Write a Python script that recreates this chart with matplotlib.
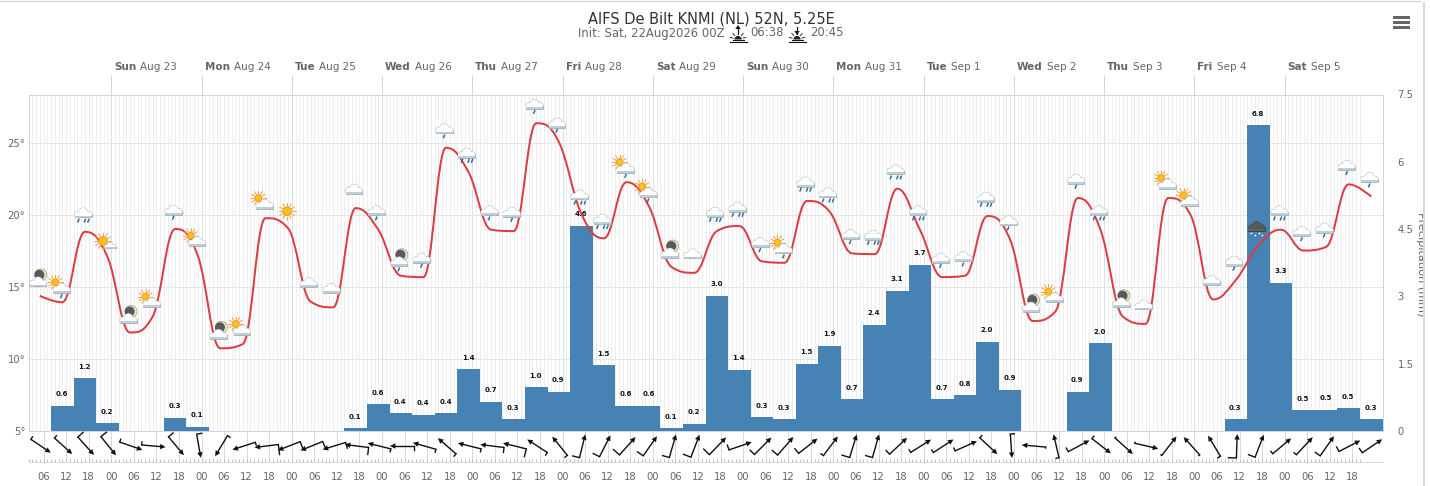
import numpy as np
import matplotlib
matplotlib.use("Agg")
import matplotlib.pyplot as plt
from matplotlib.patches import Circle, Rectangle, PathPatch, Polygon
from matplotlib.path import Path

W, H = 1430, 486
plt.rcParams['font.family'] = ['DejaVu Sans']

# ---------- data ----------
day_labels = [("Sun", "Aug 23"), ("Mon", "Aug 24"), ("Tue", "Aug 25"), ("Wed", "Aug 26"),
              ("Thu", "Aug 27"), ("Fri", "Aug 28"), ("Sat", "Aug 29"), ("Sun", "Aug 30"),
              ("Mon", "Aug 31"), ("Tue", "Sep 1"), ("Wed", "Sep 2"), ("Thu", "Sep 3"),
              ("Fri", "Sep 4"), ("Sat", "Sep 5")]

temps = [14.4, 13.95, 18.85, 17.1, 11.85, 12.95, 19.05, 17.2, 10.75, 11.05,
         19.8, 19.1, 14.0, 13.6, 20.5, 19.0, 15.8, 15.7, 24.7, 23.0,
         19.0, 18.9, 26.4, 25.1, 20.1, 18.4, 22.3, 20.6, 16.4, 16.0,
         18.9, 19.25, 16.8, 16.7, 21.0, 20.25, 17.35, 17.3, 21.85, 19.0,
         15.7, 15.8, 19.95, 18.3, 12.65, 13.3, 21.2, 19.0, 12.95, 12.45,
         21.2, 20.0, 14.15, 15.5, 17.9, 19.0, 17.55, 17.8, 22.15, 21.3]

precip = [0.56, 1.18, 0.17, 0, 0, 0.29, 0.09, 0, 0, 0, 0, 0, 0, 0.06, 0.6, 0.4, 0.36, 0.4,
          1.38, 0.65, 0.26, 0.98, 0.87, 4.57, 1.47, 0.56, 0.56, 0.06, 0.16, 3.01, 1.36, 0.31,
          0.26, 1.5, 1.9, 0.71, 2.37, 3.13, 3.7, 0.71, 0.8, 1.99, 0.92, 0, 0, 0.87, 1.96,
          0, 0, 0, 0, 0, 0.26, 6.81, 3.3, 0.46, 0.47, 0.51, 0.26]

icons = ["moon", "sundrop", "rain", "clear_small", "moon", "sun", "drop", "sun", "moon", "sun",
         "sun", "clear", "cloud", "cloud", "cloud", "drop", "moondrop", "drop", "drop", "rain",
         "drop", "drop", "drop", "drop", "rain", "rain", "sundrop", "sundrop", "moon", "cloud",
         "rain", "rain", "drop", "sundrop", "rain", "rain", "drop", "rain", "rain", "rain",
         "drop", "drop", "rain", "drop", "moon", "sun", "drop", "rain", "moon", "cloud",
         "sun", "sun", "cloud", "drop", "storm", "rain", "drop", "drop", "drop", "drop"]

wind_from = [304, 312, 318, 321, 289, 275, 320, 350, 31, 72, 83, 69, 68, 73, 97, 104, 90, 106,
             131, 104, 97, 104, 123, 141, 194, 207, 222, 215, 196, 201, 224, 251, 225, 221, 232,
             217, 197, 196, 227, 238, 237, 246, 313, 356, 95, 167, 242, 308, 312, 283, 218, 138,
             149, 182, 201, 230, 223, 215, 243, 236]

wind_speed = [3, 3, 7, 7, 3, 3, 6, 5, 3, 3, 10, 8, 7, 6, 7, 3, 4, 3, 3, 3, 5, 8, 3, 3, 7, 7, 8, 7,
              7, 8, 8, 5, 6, 7, 6, 3, 8, 7, 5, 3, 3, 3, 3, 4, 1, 3, 4, 3, 1, 1, 1, 1, 3, 8, 7, 3,
              3, 6, 5, 5]

# ---------- layout ----------
L, R, T, B = 28.5, 1382.5, 94.5, 431.0
HOUR_MIN, HOUR_MAX = 2, 362
temp_hours = np.arange(5, 360, 6)
bar_hours = np.arange(11, 360, 6)
GRAY = "#666666"
AXC = "#ccd6eb"

fig = plt.figure(figsize=(W / 72, H / 72), dpi=72, facecolor="white")


def box(l, t, r, b):
    return [l / W, 1 - b / H, (r - l) / W, (b - t) / H]


ax = fig.add_axes(box(L, T, R, B))
ax.set_xlim(HOUR_MIN, HOUR_MAX)
ax.set_ylim(5, 5 + (B - T) / 14.38)
ax.set_facecolor("white")
for s in ax.spines.values():
    s.set_color(AXC)
    s.set_linewidth(1)
ax.set_xticks([])
ax.set_yticks([5, 10, 15, 20, 25])
ax.set_yticklabels(["5°", "10°", "15°", "20°", "25°"], color=GRAY, fontsize=10)
ax.tick_params(axis="y", length=0, pad=3)
hours = np.arange(3, 357)
ax.vlines(hours, 0, 1, transform=ax.get_xaxis_transform(), color="#eeeeee", lw=1, zorder=0)
ax.vlines(np.arange(24, 340, 24), 0, 1, transform=ax.get_xaxis_transform(), color="#d9dfea", lw=1, zorder=0.5)
ax.hlines([10, 15, 20, 25], 0, 1, transform=ax.get_yaxis_transform(), color="#e6e6e6", lw=1, zorder=0.6)

ax2 = ax.twinx()
ax2.set_ylim(0, 7.5)
ax2.bar(bar_hours, precip, width=6, color="#4682b4", linewidth=0, zorder=2)
ax2.set_yticks([0, 1.5, 3, 4.5, 6, 7.5])
ax2.set_yticklabels(["0", "1.5", "3", "4.5", "6", "7.5"], color=GRAY, fontsize=10)
ax2.tick_params(axis="y", length=0, pad=15)
for s in ax2.spines.values():
    s.set_visible(False)
for h, v in zip(bar_hours, precip):
    if v > 0:
        ax2.annotate(f"{v:.1f}", (h, v), xytext=(-0.5, 11.5), textcoords="offset points", ha="center",
                     va="center", fontsize=7, fontweight="bold", color="#111111", zorder=3)


def highcharts_spline(xs, ys, smoothing=1.5):
    n = len(xs)
    verts = [(xs[0], ys[0])]
    codes = [Path.MOVETO]
    lc = [None] * n
    rc = [None] * n
    den = smoothing + 1
    for i in range(1, n - 1):
        x, y = xs[i], ys[i]
        lx, ly, nx, ny = xs[i - 1], ys[i - 1], xs[i + 1], ys[i + 1]
        lcx = (smoothing * x + lx) / den
        lcy = (smoothing * y + ly) / den
        rcx = (smoothing * x + nx) / den
        rcy = (smoothing * y + ny) / den
        corr = (rcy - lcy) * (rcx - x) / (rcx - lcx) + y - rcy
        lcy += corr
        rcy += corr
        if lcy > ly and lcy > y:
            lcy = max(ly, y)
            rcy = 2 * y - lcy
        elif lcy < ly and lcy < y:
            lcy = min(ly, y)
            rcy = 2 * y - lcy
        if rcy > ny and rcy > y:
            rcy = max(ny, y)
            lcy = 2 * y - rcy
        elif rcy < ny and rcy < y:
            rcy = min(ny, y)
            lcy = 2 * y - rcy
        lc[i] = (lcx, lcy)
        rc[i] = (rcx, rcy)
    for i in range(1, n):
        c1 = rc[i - 1] if rc[i - 1] else (xs[i - 1], ys[i - 1])
        c2 = lc[i] if lc[i] else (xs[i], ys[i])
        verts += [c1, c2, (xs[i], ys[i])]
        codes += [Path.CURVE4] * 3
    return Path(verts, codes)


ax3 = ax.twinx()
ax3.set_ylim(ax.get_ylim())
ax3.axis("off")
ax3.add_patch(PathPatch(highcharts_spline(temp_hours.tolist(), temps), fill=False,
                        edgecolor="#dc3c44", lw=2, zorder=4))

# wind pane / hour axis
bx = fig.add_axes(box(L, B, R, 461.5))
bx.set_xlim(HOUR_MIN, HOUR_MAX)
bx.set_ylim(30.5, 0)
bx.patch.set_alpha(0)
for k in ("left", "right", "top"):
    bx.spines[k].set_visible(False)
bx.spines["bottom"].set_color("#c8d0dc")
bx.set_yticks([])
major = np.arange(6, 360, 6)
bx.set_xticks(major)
bx.set_xticklabels([f"{int(h % 24):02d}" for h in major], color=GRAY, fontsize=10)
bx.tick_params(axis="x", length=0, pad=10.5)
bx.vlines(major, 0, 30.5, color="#d5dbe6", lw=1)
bx.vlines(np.arange(2, 357), 28, 30.5, color="#bdbdbd", lw=1)

# top day axis
tx = fig.add_axes(box(L, 75, R, T))
tx.set_xlim(HOUR_MIN, HOUR_MAX)
tx.set_ylim(0, 1)
tx.axis("off")
day_hours = np.arange(24, 24 * (len(day_labels) + 1), 24)
tx.vlines(day_hours, 0, 1, color=AXC, lw=1)

# overlay in pixels
ov = fig.add_axes([0, 0, 1, 1], zorder=10)
ov.set_xlim(0, W)
ov.set_ylim(H, 0)
ov.axis("off")
ov.patch.set_alpha(0)


def px(a, x, y):
    dx, dy = a.transData.transform((x, y))
    return dx, H - dy


renderer = fig.canvas.get_renderer()
for h, (d, rest) in zip(day_hours, day_labels):
    x, _ = px(tx, h, 0)
    t1 = ov.text(x + 3, 67.5, d, fontsize=10.4, fontweight="bold", color=GRAY, ha="left", va="center")
    e = t1.get_window_extent(renderer)
    ov.text(e.x1 + 4, 67.5, rest, fontsize=10.4, color=GRAY, ha="left", va="center")

ov.text(711.5, 19, "AIFS De Bilt KNMI (NL) 52N, 5.25E", fontsize=14.6, color="#333333", ha="center", va="center")
ov.text(578.5, 33, "Init: Sat, 22Aug2026 00Z", fontsize=11.6, color=GRAY, ha="left", va="center")
ov.text(750.5, 33, "06:38", fontsize=11.6, color=GRAY, ha="left", va="center")
ov.text(810.5, 33, "20:45", fontsize=11.6, color=GRAY, ha="left", va="center")


def sun_mark(cx, up):
    for y0, half in ((42.3, 8.5), (40, 5.5)):
        ov.plot([cx - half, cx + half], [y0, y0], color="#111111", lw=1.1)
    th = np.linspace(np.pi, 2 * np.pi, 20)
    ov.fill(cx + 3.6 * np.cos(th), 39.5 + 3.6 * np.sin(th), color="#222222", lw=0)
    for a in np.deg2rad([195, 230, 310, 345]):
        ov.plot([cx + 5.2 * np.cos(a), cx + 8 * np.cos(a)], [39.5 + 5.2 * np.sin(a), 39.5 + 8 * np.sin(a)],
                color="#222222", lw=0.9)
    ov.plot([cx, cx], [27, 33.5], color="#111111", lw=1.2)
    if up:
        ov.add_patch(Polygon([[cx - 2.7, 29], [cx + 2.7, 29], [cx, 25]], color="#111111", lw=0))
    else:
        ov.add_patch(Polygon([[cx - 2.7, 31], [cx + 2.7, 31], [cx, 35]], color="#111111", lw=0))


sun_mark(738, True)
sun_mark(797, False)

# hamburger
for y in (17.5, 22.5, 27.5):
    ov.add_patch(Rectangle((1393, y - 1.2), 16.5, 2.6, color=GRAY, lw=0))

# precipitation axis title (cut by the panel edge)
ov.text(1416.5, 264, "Precipitation (mm)", rotation=-90, fontsize=11.2, color=GRAY, ha="left", va="center")
ov.add_patch(Rectangle((1423, 0), 7, H, color="white", lw=0, zorder=5))
ov.plot([1423.5, 1423.5], [3, H], color="#cccccc", lw=1.5, zorder=6)
ov.plot([0, 1420], [0.5, 0.5], color="#cccccc", lw=1, zorder=6)
ov.plot([1429.5, 1429.5], [0, H], color="#555555", lw=1, zorder=6)


# weather icons
def cloud(cx, cy, s=1.0, body="white", line="#aab4bb", band="#bcd0dc"):
    parts = [(-5.2, 1.6, 3.0), (0.3, -0.3, 4.5), (5.6, 1.6, 3.0)]
    for dx, dy, r in parts:
        ov.add_patch(Circle((cx + s * dx, cy + s * dy), s * r, fc=line, ec=line, lw=0.9, zorder=3))
    ov.add_patch(Rectangle((cx - 8.2 * s, cy + 1 * s), 16.8 * s, 3.6 * s, fc=line, ec=line, lw=0.9, zorder=3))
    for dx, dy, r in parts:
        ov.add_patch(Circle((cx + s * dx, cy + s * dy), s * r, fc=body, lw=0, zorder=3.1))
    ov.add_patch(Rectangle((cx - 8.2 * s, cy + 1 * s), 16.8 * s, 3.6 * s, fc=body, lw=0, zorder=3.1))
    ov.add_patch(Rectangle((cx - 8.2 * s, cy + 2.8 * s), 16.8 * s, 1.8 * s, fc=band, lw=0, zorder=3.2))


def drops(cx, cy, n):
    offs = {1: [0.5], 3: [-4, 2.5, 6]}[n]
    for dx in offs:
        ov.plot([cx + dx, cx + dx - 1], [cy + 6.5, cy + 9], color="#2e6d9e", lw=1.5, zorder=3.3)


def sun(cx, cy, r=3.4, ray=7.5):
    for a in np.deg2rad(np.arange(0, 360, 30)):
        ov.plot([cx + (r + 1) * np.cos(a), cx + ray * np.cos(a)], [cy + (r + 1) * np.sin(a), cy + ray * np.sin(a)],
                color="#f39a3a", lw=0.9, zorder=2.8)
    ov.add_patch(Circle((cx, cy), r, fc="#fcc21b", ec="#ef8f1e", lw=0.8, zorder=2.9))


def moon(cx, cy):
    ov.add_patch(Circle((cx, cy), 6, fc="#e9e4c8", ec="#a9a68e", lw=0.8, zorder=2.8))
    ov.add_patch(Circle((cx - 1.4, cy), 5, fc="#57595c", lw=0, zorder=2.9))


for h, t, kind in zip(temp_hours, temps, icons):
    x, y = px(ax3, h, t)
    x -= 2
    if kind in ("cloud", "drop", "rain"):
        cy = y - 19
        cloud(x, cy)
        if kind == "drop":
            drops(x, cy, 1)
        elif kind == "rain":
            drops(x, cy, 3)
    elif kind in ("sun", "sundrop"):
        cy = y - 14
        sun(x - 5, cy - 6)
        cloud(x + 1, cy)
        if kind == "sundrop":
            drops(x + 1, cy, 1)
    elif kind in ("moon", "moondrop"):
        cy = y - 14
        moon(x + 3, cy - 7)
        cloud(x, cy)
        if kind == "moondrop":
            drops(x, cy, 1)
    elif kind == "clear":
        sun(x + 1, y - 17, r=4.3, ray=8.5)
    elif kind == "clear_small":
        sun(x - 2.6, y - 16, r=4.3, ray=8.5)
        cloud(x + 4.6, y - 11.5, s=0.65)
    else:
        cy = y - 19
        cloud(x, cy, body="#55595d", line="#3e4245", band="#606468")
        for dx, dy in [(-5, 7), (-1, 9), (3, 7), (6, 9)]:
            ov.add_patch(Circle((x + dx, cy + dy), 0.9, fc="white", lw=0, zorder=3.3))

# wind arrows
ALEN = 24.0
for h, d, s in zip(temp_hours, wind_from, wind_speed):
    x, _ = px(bx, h, 0)
    x += 1
    yc = 446.0
    ang = np.deg2rad(270 - d)
    ux, uy = np.cos(ang), -np.sin(ang)  # travel direction, y down
    x0, y0 = x - ux * ALEN / 2, yc - uy * ALEN / 2
    x1, y1 = x + ux * ALEN / 2, yc + uy * ALEN / 2
    ov.plot([x0, x1 - ux * 3], [y0, y1 - uy * 3], color="#111111", lw=1.4, solid_capstyle="butt", zorder=4)
    nx, ny = uy, -ux  # left of travel, on screen
    ov.add_patch(Polygon([[x1, y1],
                          [x1 - ux * 5.5 + nx * 2.7, y1 - uy * 5.5 + ny * 2.7],
                          [x1 - ux * 5.5 - nx * 2.7, y1 - uy * 5.5 - ny * 2.7]], color="#111111", lw=0, zorder=4))
    ov.plot([x0, x0 + nx * s], [y0, y0 + ny * s], color="#111111", lw=1.4, zorder=4)

fig.savefig("out.png", dpi=72, facecolor="white")
